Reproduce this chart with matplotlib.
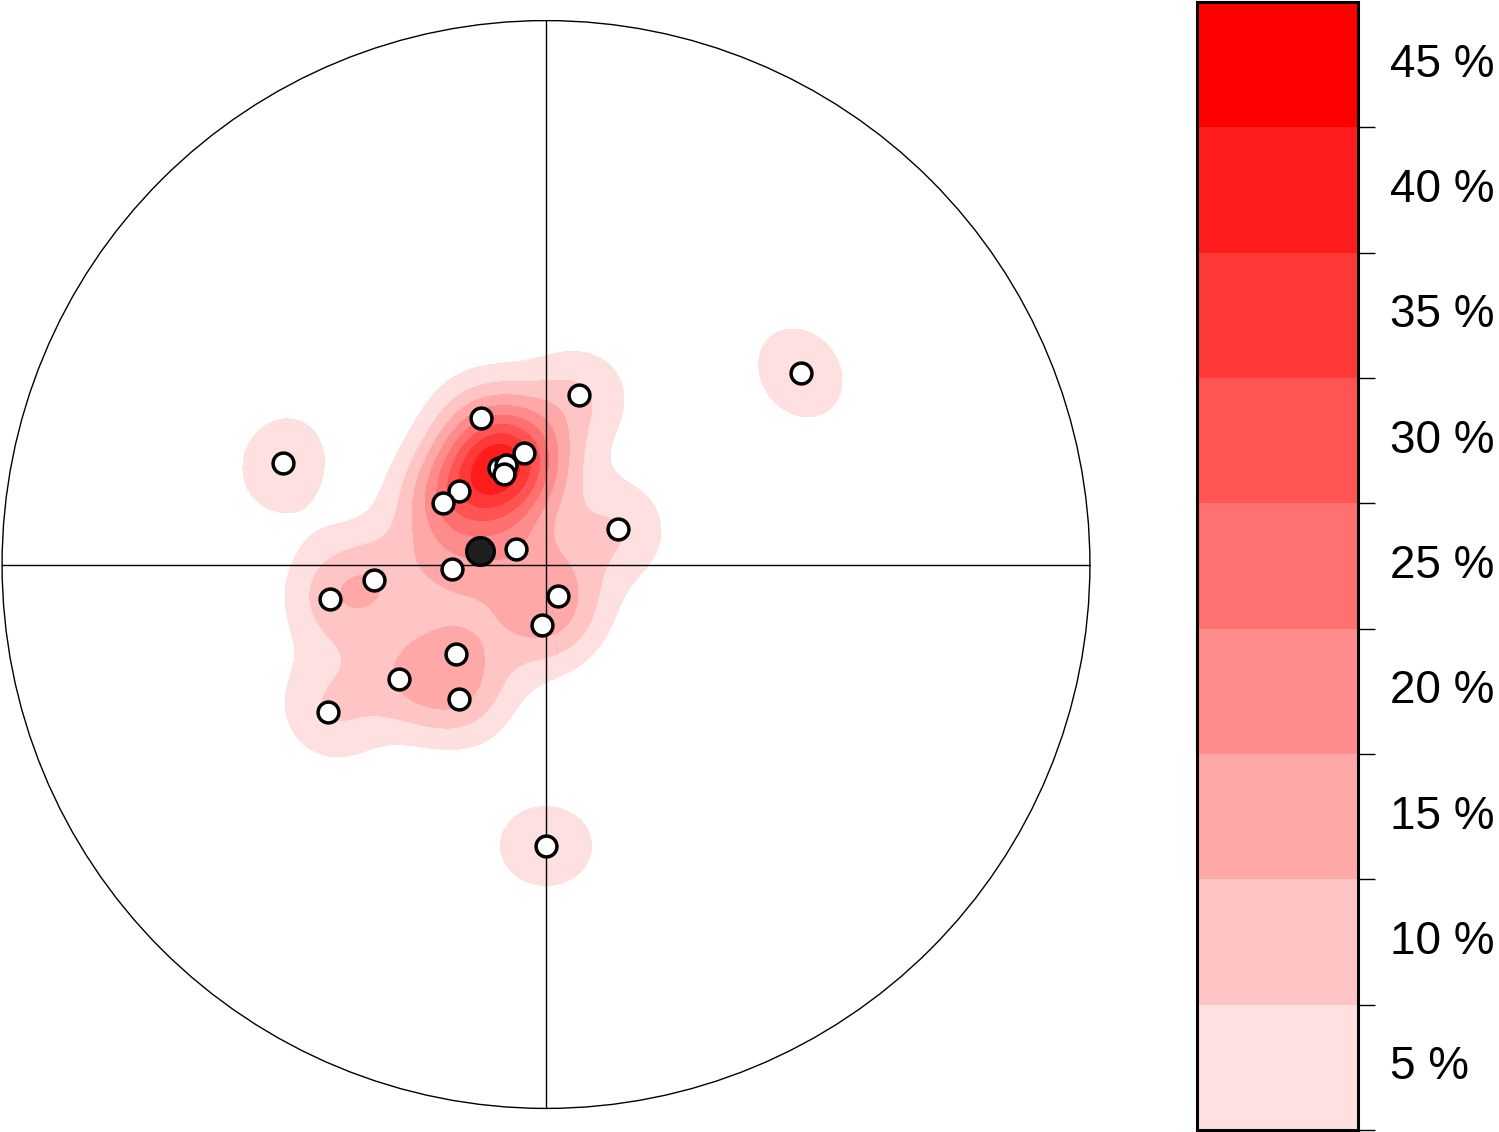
import numpy as np
import matplotlib.pyplot as plt
from matplotlib.colors import ListedColormap
from matplotlib.patches import Circle

plt.rcParams['font.family'] = ['Liberation Sans', 'DejaVu Sans']

# poles (degrees)
trend = [11, 336, 349, 334, 338, 335, 310, 301, 64, 297, 267,
         265, 261, 159, 184, 225, 232, 213, 236, 53, 291, 180]
plunge = [64, 66, 73, 74, 74, 75, 73, 72, 78, 85, 76,
          64, 57, 85, 81, 71, 62, 66, 50, 41, 47, 47]

levels = [5, 10, 15, 20, 25, 30, 35, 40, 45, 50]
band_colors = ['#ffe0e0', '#ffc4c4', '#ffa8a8', '#ff8c8c', '#ff7070',
               '#ff5454', '#ff3838', '#ff1c1c', '#ff0000']

kappa = 97.0
pct_per_point = 9.0


def to_vec(tr, pl):
    t, p = np.radians(tr), np.radians(pl)
    return np.stack([np.cos(p) * np.sin(t), np.cos(p) * np.cos(t), np.sin(p)], -1)


def project(v):
    # lower hemisphere equal-area (Schmidt)
    v = v / np.linalg.norm(v, axis=-1, keepdims=True)
    theta = np.arccos(np.clip(v[..., 2], -1, 1))
    r = np.sqrt(2) * np.sin(theta / 2)
    az = np.arctan2(v[..., 0], v[..., 1])
    return r * np.sin(az), r * np.cos(az)


pts = to_vec(np.array(trend), np.array(plunge))
px, py = project(pts)
mx, my = project(pts.sum(0))

# density grid on the sphere
g = np.linspace(-1, 1, 501)
X, Y = np.meshgrid(g, g)
R = np.hypot(X, Y)
th = 2 * np.arcsin(np.clip(R / np.sqrt(2), 0, 1))
az = np.arctan2(X, Y)
G = np.stack([np.sin(th) * np.sin(az), np.sin(th) * np.cos(az), np.cos(th)], -1)
dens = pct_per_point * np.exp(kappa * (np.abs(G @ pts.T) - 1)).sum(-1)
dens = np.minimum(dens, 49.9)
dens[R > 1] = np.nan

fig = plt.figure(figsize=(14.99, 11.32), dpi=100)
ax = fig.add_axes([1 / 1499, 22 / 1132, 1090 / 1499, 1091 / 1132])
cmap = ListedColormap(band_colors)
cf = ax.contourf(X, Y, dens, levels=levels, cmap=cmap, zorder=1)

ax.add_patch(Circle((0, 0), 1, fill=False, lw=1.0, color='black', zorder=3))
ax.plot([-1, 1], [0, 0], color='black', lw=1.0, zorder=3)
ax.plot([0, 0], [-1, 1], color='black', lw=1.0, zorder=3)

ax.plot(px, py, 'o', ms=15, mfc='white', mec='black', mew=2.5, zorder=5)
ax.plot(mx, my, 'o', ms=20, mfc='#1e1e1e', mec='black', mew=2.3, zorder=6)

ax.set_xlim(-1.002, 1.002)
ax.set_ylim(-1.002, 1.002)
ax.set_aspect('equal')
ax.axis('off')

cax = fig.add_axes([1197 / 1499, 2 / 1132, 161 / 1499, 1128 / 1132])
cb = fig.colorbar(cf, cax=cax)
cb.outline.set_linewidth(2.2)
cb.set_ticks(levels[:-1], labels=[''] * (len(levels) - 1))
centers = [v + 2.7 for v in levels[:-1]]
cax.set_yticks(centers, labels=[f'{v} %' for v in levels[:-1]], minor=True)
cax.tick_params(which='major', length=12, width=1.0, direction='out')
cax.tick_params(which='minor', length=0, pad=23, labelsize=33)

fig.savefig('out.png', dpi=100)
